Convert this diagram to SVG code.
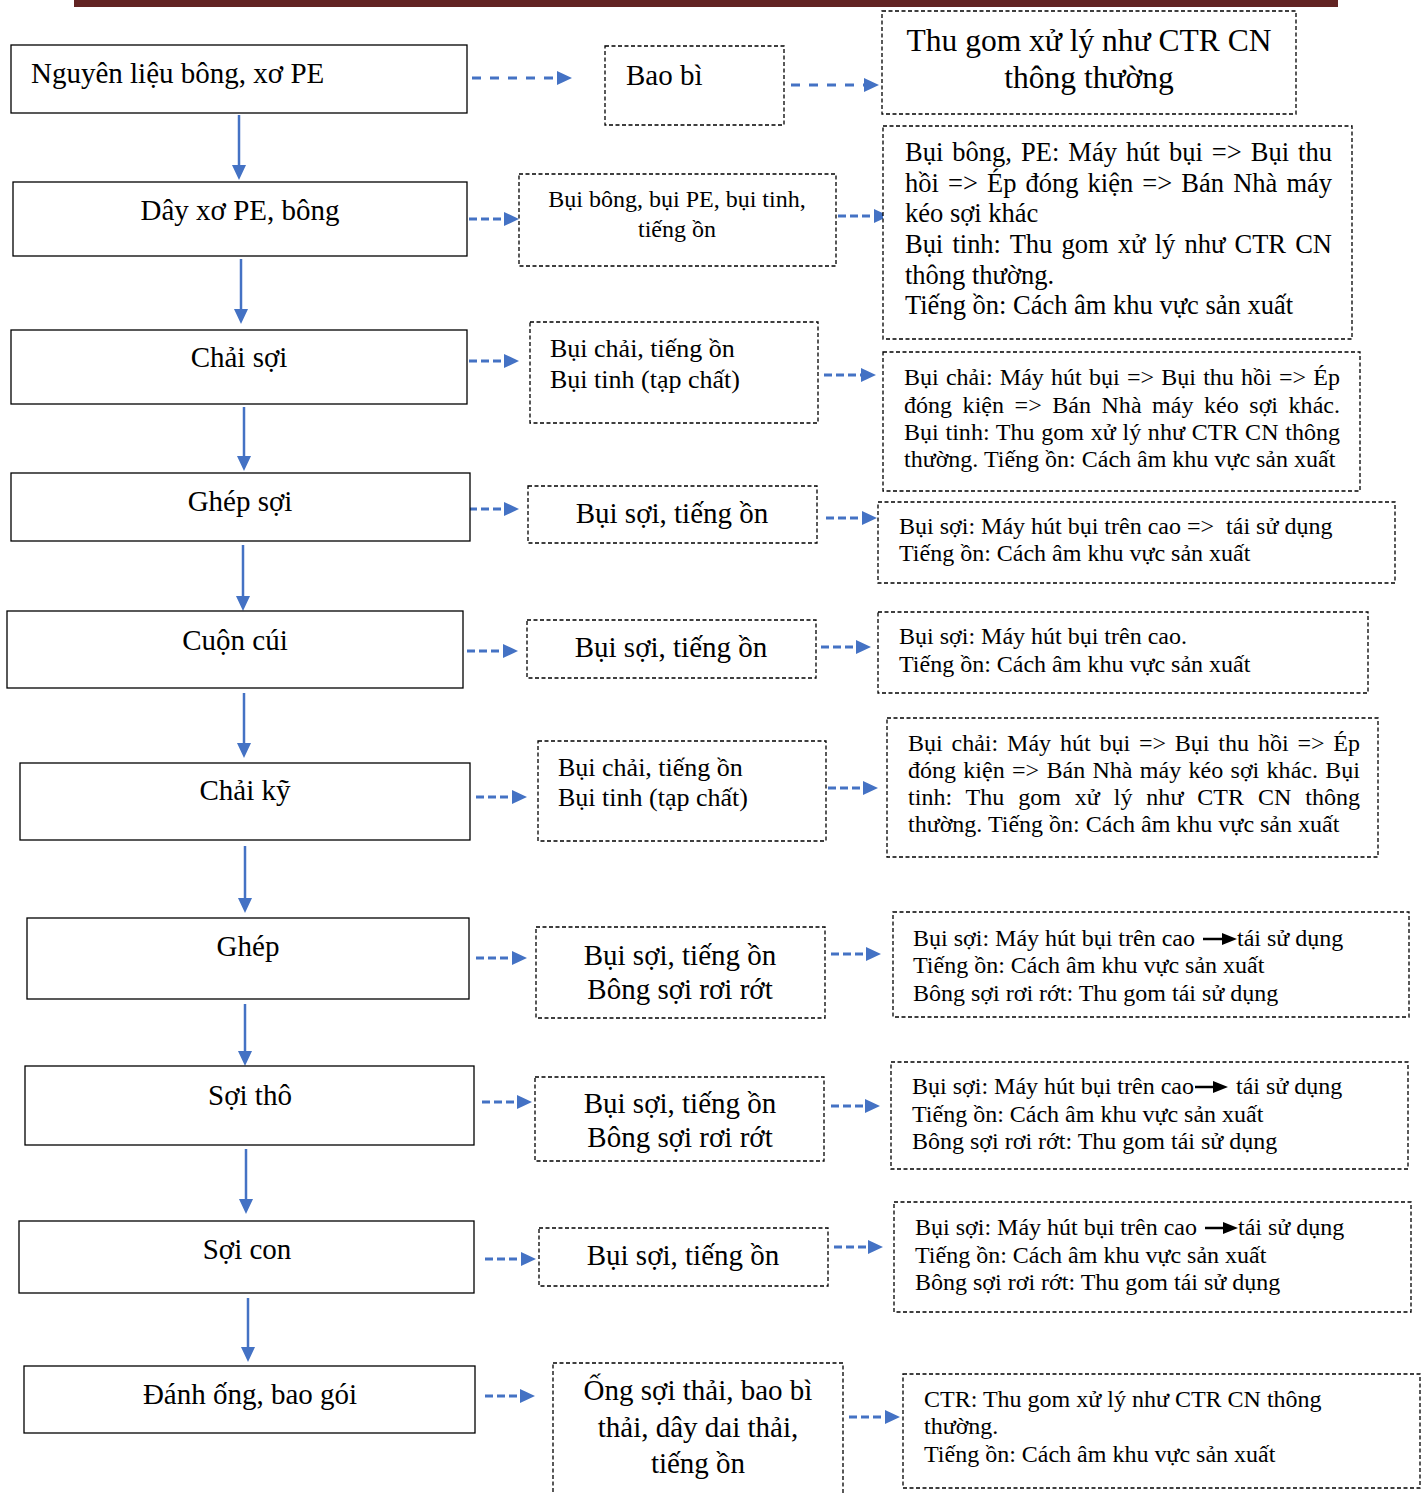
<svg xmlns="http://www.w3.org/2000/svg" width="1427" height="1493" viewBox="0 0 1427 1493">
<style>
.box{fill:#fff;stroke:#000;stroke-width:1.3}
.dbox{fill:#fff;stroke:#000;stroke-width:1.3;stroke-dasharray:4 2.5}
text{font-family:"Liberation Serif","Times New Roman",serif;fill:#000}
.t29{font-size:29px}
.t31{font-size:31.5px}
.t26{font-size:26.5px}
.t25{font-size:26px}
.t24{font-size:24px}
.c{text-anchor:middle}
.flow{stroke:#4472C4;stroke-width:2.5;fill:none}
.dash{stroke:#4472C4;stroke-width:3;stroke-dasharray:8 4;fill:none}
.dashL{stroke:#4472C4;stroke-width:3;stroke-dasharray:9 9;fill:none}
.pre{white-space:pre}
</style>
<defs>
<marker id="ah" viewBox="0 0 15 14" refX="0" refY="7" markerWidth="15" markerHeight="14" markerUnits="userSpaceOnUse" orient="auto"><path d="M0,0 L15,7 L0,14 z" fill="#4472C4"/></marker>
</defs>
<rect x="74" y="0" width="1264" height="7" fill="#622423"/>

<g id="connectors">
<line class="flow" x1="239" y1="115" x2="239" y2="165" marker-end="url(#ah)"/>
<line class="flow" x1="241" y1="259" x2="241" y2="309" marker-end="url(#ah)"/>
<line class="flow" x1="244" y1="407" x2="244" y2="456" marker-end="url(#ah)"/>
<line class="flow" x1="243" y1="545" x2="243" y2="596" marker-end="url(#ah)"/>
<line class="flow" x1="244" y1="693" x2="244" y2="743" marker-end="url(#ah)"/>
<line class="flow" x1="245" y1="846" x2="245" y2="898" marker-end="url(#ah)"/>
<line class="flow" x1="245" y1="1004" x2="245" y2="1051" marker-end="url(#ah)"/>
<line class="flow" x1="246" y1="1149" x2="246" y2="1199" marker-end="url(#ah)"/>
<line class="flow" x1="248" y1="1298" x2="248" y2="1347" marker-end="url(#ah)"/>

<line class="dashL" x1="472" y1="78" x2="557" y2="78" marker-end="url(#ah)"/>
<line class="dashL" x1="791" y1="85" x2="864" y2="85" marker-end="url(#ah)"/>
<line class="dash" x1="469" y1="219" x2="504" y2="219" marker-end="url(#ah)"/>
<line class="dash" x1="838" y1="216" x2="874" y2="216" marker-end="url(#ah)"/>
<line class="dash" x1="469" y1="361" x2="504" y2="361" marker-end="url(#ah)"/>
<line class="dash" x1="824" y1="375" x2="861" y2="375" marker-end="url(#ah)"/>
<line class="dash" x1="469" y1="509" x2="504" y2="509" marker-end="url(#ah)"/>
<line class="dash" x1="826" y1="518" x2="862" y2="518" marker-end="url(#ah)"/>
<line class="dash" x1="467" y1="651" x2="503" y2="651" marker-end="url(#ah)"/>
<line class="dash" x1="821" y1="647" x2="856" y2="647" marker-end="url(#ah)"/>
<line class="dash" x1="476" y1="797" x2="512" y2="797" marker-end="url(#ah)"/>
<line class="dash" x1="828" y1="788" x2="863" y2="788" marker-end="url(#ah)"/>
<line class="dash" x1="476" y1="958" x2="512" y2="958" marker-end="url(#ah)"/>
<line class="dash" x1="831" y1="954" x2="866" y2="954" marker-end="url(#ah)"/>
<line class="dash" x1="482" y1="1102" x2="517" y2="1102" marker-end="url(#ah)"/>
<line class="dash" x1="831" y1="1106" x2="865" y2="1106" marker-end="url(#ah)"/>
<line class="dash" x1="485" y1="1259" x2="521" y2="1259" marker-end="url(#ah)"/>
<line class="dash" x1="834" y1="1247" x2="868" y2="1247" marker-end="url(#ah)"/>
<line class="dash" x1="485" y1="1396" x2="520" y2="1396" marker-end="url(#ah)"/>
<line class="dash" x1="849" y1="1417" x2="885" y2="1417" marker-end="url(#ah)"/>
</g>

<g id="n1"><rect class="box" x="11" y="45" width="456" height="68"/><text class="t29" x="31" y="83">Nguyên liệu bông, xơ PE</text></g>
<g id="n2"><rect class="box" x="13" y="182" width="454" height="74"/><text class="t29 c" x="240" y="220">Dây xơ PE, bông</text></g>
<g id="n3"><rect class="box" x="11" y="330" width="456" height="74"/><text class="t29 c" x="239" y="367">Chải sợi</text></g>
<g id="n4"><rect class="box" x="11" y="473" width="459" height="68"/><text class="t29 c" x="240" y="511">Ghép sợi</text></g>
<g id="n5"><rect class="box" x="7" y="611" width="456" height="77"/><text class="t29 c" x="235" y="650">Cuộn cúi</text></g>
<g id="n6"><rect class="box" x="20" y="763" width="450" height="77"/><text class="t29 c" x="245" y="800">Chải kỹ</text></g>
<g id="n7"><rect class="box" x="27" y="918" width="442" height="81"/><text class="t29 c" x="248" y="956">Ghép</text></g>
<g id="n8"><rect class="box" x="25" y="1066" width="449" height="79"/><text class="t29 c" x="250" y="1105">Sợi thô</text></g>
<g id="n9"><rect class="box" x="19" y="1221" width="455" height="72"/><text class="t29 c" x="247" y="1259">Sợi con</text></g>
<g id="n10"><rect class="box" x="24" y="1366" width="451" height="67"/><text class="t29 c" x="250" y="1404">Đánh ống, bao gói</text></g>

<g id="m1"><rect class="dbox" x="605" y="46" width="179" height="79"/><text class="t29" x="626" y="85">Bao bì</text></g>
<g id="m2"><rect class="dbox" x="519" y="174" width="317" height="92"/><text class="t24 c" x="677" y="207">Bụi bông, bụi PE, bụi tinh,</text><text class="t24 c" x="677" y="237">tiếng ồn</text></g>
<g id="m3"><rect class="dbox" x="530" y="322" width="288" height="101"/><text class="t25" x="550" y="357">Bụi chải, tiếng ồn</text><text class="t25" x="550" y="388">Bụi tinh (tạp chất)</text></g>
<g id="m4"><rect class="dbox" x="528" y="486" width="289" height="57"/><text class="t29 c" x="672" y="523">Bụi sợi, tiếng ồn</text></g>
<g id="m5"><rect class="dbox" x="527" y="620" width="289" height="58"/><text class="t29 c" x="671" y="657">Bụi sợi, tiếng ồn</text></g>
<g id="m6"><rect class="dbox" x="538" y="741" width="288" height="100"/><text class="t25" x="558" y="776">Bụi chải, tiếng ồn</text><text class="t25" x="558" y="806">Bụi tinh (tạp chất)</text></g>
<g id="m7"><rect class="dbox" x="536" y="927" width="289" height="91"/><text class="t29 c" x="680" y="965">Bụi sợi, tiếng ồn</text><text class="t29 c" x="680" y="999">Bông sợi rơi rớt</text></g>
<g id="m8"><rect class="dbox" x="535" y="1077" width="289" height="84"/><text class="t29 c" x="680" y="1113">Bụi sợi, tiếng ồn</text><text class="t29 c" x="680" y="1147">Bông sợi rơi rớt</text></g>
<g id="m9"><rect class="dbox" x="539" y="1228" width="289" height="58"/><text class="t29 c" x="683" y="1265">Bụi sợi, tiếng ồn</text></g>
<g id="m10"><rect class="dbox" x="553" y="1363" width="290" height="145"/><text class="t29 c" x="698" y="1400">Ống sợi thải, bao bì</text><text class="t29 c" x="698" y="1437">thải, dây dai thải,</text><text class="t29 c" x="698" y="1473">tiếng ồn</text></g>

<g id="r1"><rect class="dbox" x="882" y="11" width="414" height="103"/><text class="t31 c" x="1089" y="51">Thu gom xử lý như CTR CN</text><text class="t31 c" x="1089" y="88">thông thường</text></g>
<g id="r2"><rect class="dbox" x="883" y="126" width="469" height="213"/>
<text class="t26" x="905" y="161" word-spacing="2.4" textLength="427" lengthAdjust="spacing">Bụi bông, PE: Máy hút bụi =&gt; Bụi thu</text>
<text class="t26" x="905" y="192" word-spacing="2.5" textLength="427" lengthAdjust="spacing">hồi =&gt; Ép đóng kiện =&gt; Bán Nhà máy</text>
<text class="t26" x="905" y="222">kéo sợi khác</text>
<text class="t26" x="905" y="253" word-spacing="2.7" textLength="427" lengthAdjust="spacing">Bụi tinh: Thu gom xử lý như CTR CN</text>
<text class="t26" x="905" y="284">thông thường.</text>
<text class="t26" x="905" y="314">Tiếng ồn: Cách âm khu vực sản xuất</text></g>
<g id="r3"><rect class="dbox" x="883" y="352" width="477" height="139"/>
<text class="t24" x="904" y="385" word-spacing="1.2" textLength="436" lengthAdjust="spacing">Bụi chải: Máy hút bụi =&gt; Bụi thu hồi =&gt; Ép</text>
<text class="t24" x="904" y="413" word-spacing="4.5" textLength="436" lengthAdjust="spacing">đóng kiện =&gt; Bán Nhà máy kéo sợi khác.</text>
<text class="t24" x="904" y="440" word-spacing="0.6" textLength="436" lengthAdjust="spacing">Bụi tinh: Thu gom xử lý như CTR CN thông</text>
<text class="t24" x="904" y="467">thường. Tiếng ồn: Cách âm khu vực sản xuất</text></g>
<g id="r4"><rect class="dbox" x="878" y="502" width="517" height="81"/>
<text class="t24 pre" x="899" y="534">Bụi sợi: Máy hút bụi trên cao =&gt;  tái sử dụng</text>
<text class="t24" x="899" y="561">Tiếng ồn: Cách âm khu vực sản xuất</text></g>
<g id="r5"><rect class="dbox" x="878" y="612" width="490" height="81"/>
<text class="t24" x="899" y="644">Bụi sợi: Máy hút bụi trên cao.</text>
<text class="t24" x="899" y="672">Tiếng ồn: Cách âm khu vực sản xuất</text></g>
<g id="r6"><rect class="dbox" x="887" y="718" width="491" height="139"/>
<text class="t24" x="908" y="751" word-spacing="2.8" textLength="452" lengthAdjust="spacing">Bụi chải: Máy hút bụi =&gt; Bụi thu hồi =&gt; Ép</text>
<text class="t24" x="908" y="778" word-spacing="1.3" textLength="452" lengthAdjust="spacing">đóng kiện =&gt; Bán Nhà máy kéo sợi khác. Bụi</text>
<text class="t24" x="908" y="805" word-spacing="7.8" textLength="452" lengthAdjust="spacing">tinh: Thu gom xử lý như CTR CN thông</text>
<text class="t24" x="908" y="832">thường. Tiếng ồn: Cách âm khu vực sản xuất</text></g>
<g id="r7"><rect class="dbox" x="893" y="912" width="516" height="105"/>
<text class="t24" x="913" y="946">Bụi sợi: Máy hút bụi trên cao</text>
<line x1="1203" y1="939" x2="1223" y2="939" stroke="#000" stroke-width="2.5"/><path d="M1222,933 L1237,939 L1222,945 z" fill="#000"/>
<text class="t24" x="1237" y="946">tái sử dụng</text>
<text class="t24" x="913" y="973">Tiếng ồn: Cách âm khu vực sản xuất</text>
<text class="t24" x="913" y="1001">Bông sợi rơi rớt: Thu gom tái sử dụng</text></g>
<g id="r8"><rect class="dbox" x="891" y="1062" width="517" height="107"/>
<text class="t24" x="912" y="1094">Bụi sợi: Máy hút bụi trên cao</text>
<line x1="1195" y1="1087" x2="1214" y2="1087" stroke="#000" stroke-width="2.5"/><path d="M1213,1081 L1228,1087 L1213,1093 z" fill="#000"/>
<text class="t24" x="1236" y="1094">tái sử dụng</text>
<text class="t24" x="912" y="1122">Tiếng ồn: Cách âm khu vực sản xuất</text>
<text class="t24" x="912" y="1149">Bông sợi rơi rớt: Thu gom tái sử dụng</text></g>
<g id="r9"><rect class="dbox" x="894" y="1202" width="517" height="110"/>
<text class="t24" x="915" y="1235">Bụi sợi: Máy hút bụi trên cao</text>
<line x1="1205" y1="1228" x2="1224" y2="1228" stroke="#000" stroke-width="2.5"/><path d="M1223,1222 L1238,1228 L1223,1234 z" fill="#000"/>
<text class="t24" x="1238" y="1235">tái sử dụng</text>
<text class="t24" x="915" y="1263">Tiếng ồn: Cách âm khu vực sản xuất</text>
<text class="t24" x="915" y="1290">Bông sợi rơi rớt: Thu gom tái sử dụng</text></g>
<g id="r10"><rect class="dbox" x="903" y="1374" width="517" height="114"/>
<text class="t24" x="924" y="1407">CTR: Thu gom xử lý như CTR CN thông</text>
<text class="t24" x="924" y="1434">thường.</text>
<text class="t24" x="924" y="1462">Tiếng ồn: Cách âm khu vực sản xuất</text></g>
</svg>
